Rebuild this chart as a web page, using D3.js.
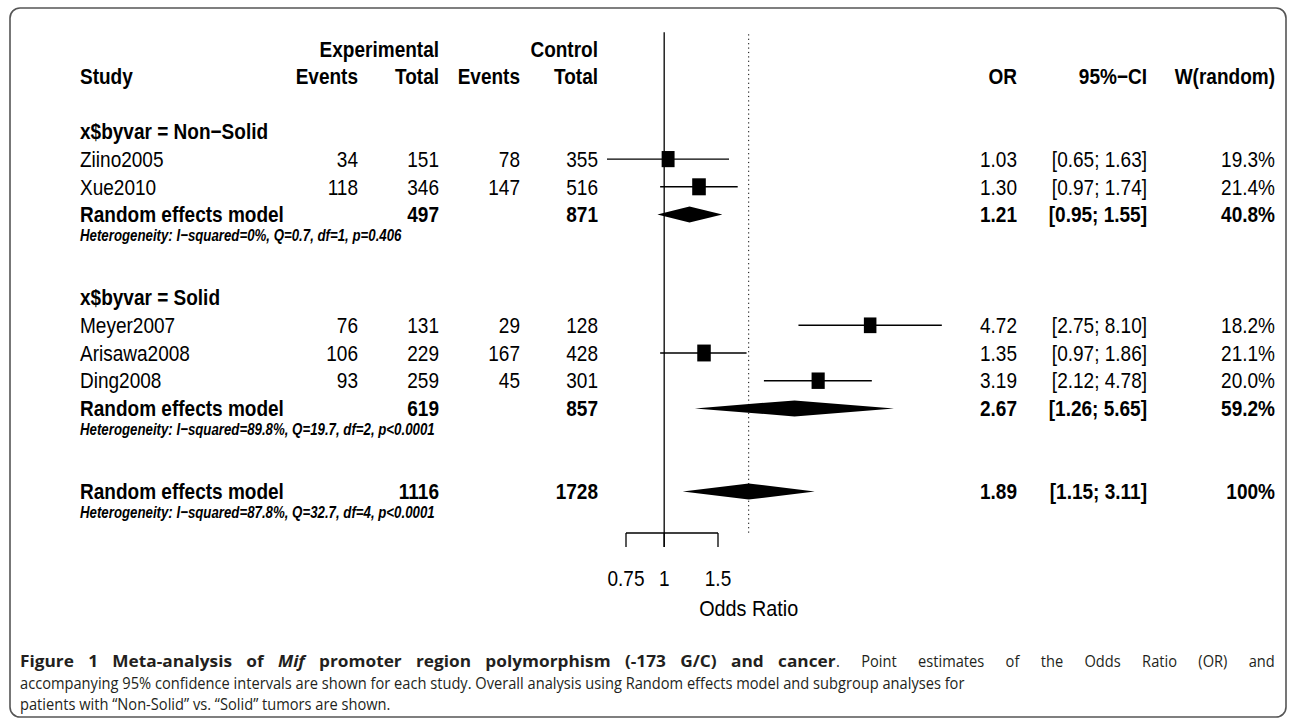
<!DOCTYPE html>
<html><head><meta charset="utf-8">
<script src="https://cdn.jsdelivr.net/npm/d3@7"></script>
<style>
html,body{margin:0;padding:0;background:#fff;}
svg{display:block;}
</style></head>
<body>
<svg id="chart" width="1290" height="723"></svg>
<script>
// ---------- data ----------
const studies     = ["Ziino2005","Xue2010","Meyer2007","Arisawa2008","Ding2008"];
const studyGroup  = [0,0,1,1,1];
const groupLabels = ["x$byvar = Non\u2212Solid","x$byvar = Solid"];
const expEvents   = [34,118,76,106,93];
const expTotal    = [151,346,131,229,259];
const ctrlEvents  = [78,147,29,167,45];
const ctrlTotal   = [355,516,128,428,301];
const orValues    = [1.03,1.30,4.72,1.35,3.19];
const ciLow       = [0.65,0.97,2.75,0.97,2.12];
const ciHigh      = [1.63,1.74,8.10,1.86,4.78];
const weights     = [19.3,21.4,18.2,21.1,20.0];

const sumExpTotal  = [497,619,1116];
const sumCtrlTotal = [871,857,1728];
const sumOR        = [1.21,2.67,1.89];
const sumLow       = [0.95,1.26,1.15];
const sumHigh      = [1.55,5.65,3.11];
const sumWeight    = [40.8,59.2,100];
const hetTexts = [
  "Heterogeneity: I\u2212squared=0%, Q=0.7, df=1, p=0.406",
  "Heterogeneity: I\u2212squared=89.8%, Q=19.7, df=2, p<0.0001",
  "Heterogeneity: I\u2212squared=87.8%, Q=32.7, df=4, p<0.0001"
];
const axisTicks = [0.75, 1, 1.5];
const axisTickLabels = ["0.75","1","1.5"];
const pooledOR = 1.89;

// ---------- layout ----------
const FONT = "'Liberation Sans', Arial, Helvetica, sans-serif";
const SX = 0.865;         // horizontal squeeze of the plot text
const FS = 22;            // plot font size
const svg = d3.select("#chart");

// frame
svg.append("rect").attr("x",10).attr("y",8).attr("width",1276).attr("height",709)
  .attr("rx",10).attr("ry",10).attr("fill","none").attr("stroke","#555").attr("stroke-width",1.6);

const x = d3.scaleLog().domain([0.75,1.5]).range([626,718]);
const ROW = 27.7, TOP = 76;
const y = d3.scaleLinear().domain([0,16]).range([TOP, TOP + 16*ROW]);

const col = {study:80, expE:358, expT:439, ctrlE:520, ctrlT:598, or:1017, ci:1147, w:1275};

function txt(xp, yp, s, o={}) {
  return svg.append("text")
    .attr("transform", `translate(${xp},${yp}) scale(${o.sx || SX},1)`)
    .attr("dy","0.35em")
    .attr("text-anchor", o.anchor || "start")
    .attr("font-family", FONT)
    .attr("font-size", o.size || FS)
    .attr("font-weight", o.bold ? "bold" : "normal")
    .attr("font-style", o.italic ? "italic" : "normal")
    .attr("fill","#000")
    .text(s);
}

// build row list
const rows = [];
let r = 2;
[0,1].forEach(g => {
  rows.push({type:"group", g, row:r++});
  studies.forEach((s,i) => { if (studyGroup[i]===g) rows.push({type:"study", i, row:r++}); });
  rows.push({type:"summary", k:g, row:r++});
  rows.push({type:"het", k:g, row:r++});
  r++;
});
rows.push({type:"summary", k:2, row:r++});
rows.push({type:"het", k:2, row:r++});

const axisY = Math.round(y(16) + ROW/2);

// reference lines
const lineTop = y(-1) - 16;
svg.append("line").attr("x1",x(1)).attr("x2",x(1)).attr("y1",lineTop).attr("y2",axisY+14)
  .attr("stroke","#000").attr("stroke-width",1.3);
svg.append("line").attr("x1",x(pooledOR)).attr("x2",x(pooledOR)).attr("y1",lineTop+2).attr("y2",axisY)
  .attr("stroke","#000").attr("stroke-width",1).attr("stroke-dasharray","1.2,3.2");

// headers
const hdrY1 = y(0) - 27, hdrY2 = y(0);
txt(col.expT, hdrY1, "Experimental", {bold:true, anchor:"end"});
txt(col.ctrlT, hdrY1, "Control", {bold:true, anchor:"end"});
txt(col.study, hdrY2, "Study", {bold:true});
txt(col.expE, hdrY2, "Events", {bold:true, anchor:"end"});
txt(col.expT, hdrY2, "Total", {bold:true, anchor:"end"});
txt(col.ctrlE, hdrY2, "Events", {bold:true, anchor:"end"});
txt(col.ctrlT, hdrY2, "Total", {bold:true, anchor:"end"});
txt(col.or, hdrY2, "OR", {bold:true, anchor:"end"});
txt(col.ci, hdrY2, "95%\u2212CI", {bold:true, anchor:"end"});
txt(col.w, hdrY2, "W(random)", {bold:true, anchor:"end"});

const sq = d3.scaleSqrt().domain([0, d3.max(weights)]).range([0, 17]);
const fmt2 = d3.format(".2f");
const ciStr = (a,b) => `[${fmt2(a)}; ${fmt2(b)}]`;
const wStr = v => (v===100 ? "100" : d3.format(".1f")(v)) + "%";

rows.forEach(d => {
  const yy = y(d.row);
  if (d.type==="group") {
    txt(col.study, yy, groupLabels[d.g], {bold:true});
  } else if (d.type==="study") {
    const i = d.i;
    txt(col.study, yy, studies[i]);
    txt(col.expE, yy, expEvents[i], {anchor:"end"});
    txt(col.expT, yy, expTotal[i], {anchor:"end"});
    txt(col.ctrlE, yy, ctrlEvents[i], {anchor:"end"});
    txt(col.ctrlT, yy, ctrlTotal[i], {anchor:"end"});
    txt(col.or, yy, fmt2(orValues[i]), {anchor:"end"});
    txt(col.ci, yy, ciStr(ciLow[i], ciHigh[i]), {anchor:"end"});
    txt(col.w, yy, wStr(weights[i]), {anchor:"end"});
    svg.append("line").attr("x1",x(ciLow[i])).attr("x2",x(ciHigh[i]))
      .attr("y1",yy).attr("y2",yy).attr("stroke","#000").attr("stroke-width",1.4);
    const h = sq(weights[i]), w = h*0.8;
    svg.append("rect").attr("x",x(orValues[i])-w/2).attr("y",yy-h/2)
      .attr("width",w).attr("height",h).attr("fill","#000");
  } else if (d.type==="summary") {
    const k = d.k;
    txt(col.study, yy, "Random effects model", {bold:true});
    txt(col.expT, yy, sumExpTotal[k], {bold:true, anchor:"end"});
    txt(col.ctrlT, yy, sumCtrlTotal[k], {bold:true, anchor:"end"});
    txt(col.or, yy, fmt2(sumOR[k]), {bold:true, anchor:"end"});
    txt(col.ci, yy, ciStr(sumLow[k], sumHigh[k]), {bold:true, anchor:"end"});
    txt(col.w, yy, wStr(sumWeight[k]), {bold:true, anchor:"end"});
    const hh = 8;
    const pts = [[x(sumLow[k]),yy],[x(sumOR[k]),yy-hh],[x(sumHigh[k]),yy],[x(sumOR[k]),yy+hh]];
    svg.append("polygon").attr("points", pts.map(p=>p.join(",")).join(" ")).attr("fill","#000");
  } else if (d.type==="het") {
    txt(col.study, yy-7, hetTexts[d.k], {bold:true, italic:true, size:17, sx:0.78});
  }
});

// axis
const axG = svg.append("g");
axG.append("line").attr("x1",x(axisTicks[0])).attr("x2",x(axisTicks[axisTicks.length-1]))
  .attr("y1",axisY).attr("y2",axisY).attr("stroke","#000").attr("stroke-width",1.3);
axisTicks.forEach((t,i) => {
  axG.append("line").attr("x1",x(t)).attr("x2",x(t)).attr("y1",axisY).attr("y2",axisY+14)
    .attr("stroke","#000").attr("stroke-width",1.3);
  txt(x(t), 578, axisTickLabels[i], {anchor:"middle"});
});
txt(x(pooledOR), 608, "Odds Ratio", {anchor:"middle", sx:0.9});

// caption
const CF = "'Open Sans', 'Noto Sans', sans-serif";
const capG = svg.append("g").attr("fill","#231f20").attr("font-family",CF).attr("font-size",16);
const capY = [667, 689, 710];
// line 2 sets the squeeze of the regular caption text
const l2 = capG.append("text")
  .text("accompanying 95% confidence intervals are shown for each study. Overall analysis using Random effects model and subgroup analyses for");
const cs = 945 / l2.node().getComputedTextLength();
l2.attr("transform", `translate(20,${capY[1]}) scale(${cs},1)`);
const l3 = capG.append("text")
  .attr("transform", `translate(20,${capY[2]}) scale(${cs},1)`)
  .text("patients with \u201cNon-Solid\u201d vs. \u201cSolid\u201d tumors are shown.");
// line 1: bold title part, then justified regular part
const bEnd = 836;
const l1b = capG.append("text").attr("font-weight","bold");
l1b.append("tspan").text("Figure 1 Meta-analysis of ");
l1b.append("tspan").attr("font-style","italic").text("Mif");
l1b.append("tspan").text(" promoter region polymorphism (-173 G/C) and cancer");
const natB = l1b.node().getComputedTextLength();
const bsFit = (bEnd - 20) / natB;
const sb = Math.min(bsFit, cs + 0.5 * (bsFit - cs));
const spB = (l1b.text().match(/ /g) || []).length;
l1b.attr("word-spacing", Math.max(0, ((bEnd - 20)/sb - natB) / spB))
   .attr("transform", `translate(20,${capY[0]}) scale(${sb},1)`);
const l1n = capG.append("text").text(". Point estimates of the Odds Ratio (OR) and");
const natN = l1n.node().getComputedTextLength();
const spN = (l1n.text().match(/ /g) || []).length;
l1n.attr("word-spacing", Math.max(0, ((1275 - bEnd)/cs - natN) / spN))
   .attr("transform", `translate(${bEnd},${capY[0]}) scale(${cs},1)`);
</script>
</body></html>
